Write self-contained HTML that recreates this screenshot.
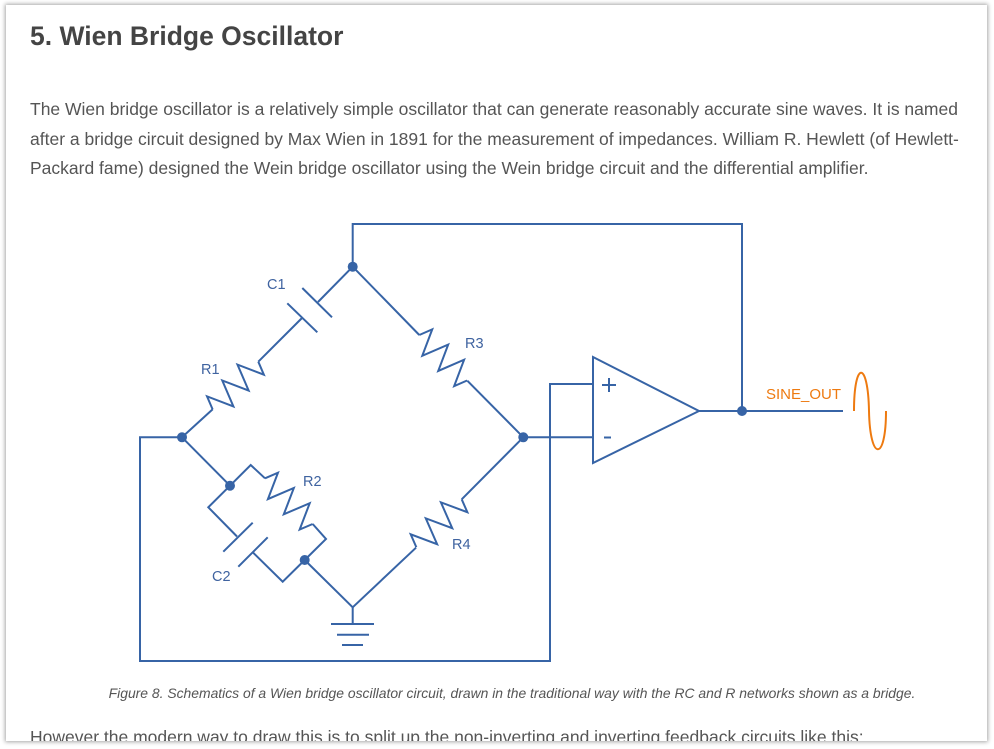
<!DOCTYPE html>
<html><head><style>
html,body{margin:0;padding:0;background:#fff;width:994px;height:749px;overflow:hidden;}
.card{position:absolute;left:6px;top:5px;width:981px;height:736px;background:#fff;box-shadow:0 0 4px 1px rgba(0,0,0,0.35);overflow:hidden;}
h1{position:absolute;left:24px;top:16px;margin:0;font:bold 26.5px "Liberation Sans",sans-serif;color:#444;}
p{position:absolute;left:24px;top:90px;width:945px;margin:0;font:17.5px/29.5px "Liberation Sans",sans-serif;color:#555;}
.cap{position:absolute;left:98px;width:816px;top:680px;text-align:center;font:italic 13.9px "Liberation Sans",sans-serif;color:#555;white-space:nowrap;}
.last{position:absolute;left:24px;top:722px;font:17.5px "Liberation Sans",sans-serif;color:#555;white-space:nowrap;}
svg{position:absolute;left:-6px;top:-5px;}
</style></head><body>
<div class="card">
<h1>5. Wien Bridge Oscillator</h1>
<p>The Wien bridge oscillator is a relatively simple oscillator that can generate reasonably accurate sine waves. It is named after a bridge circuit designed by Max Wien in 1891 for the measurement of impedances. William R. Hewlett (of Hewlett-Packard fame) designed the Wein bridge oscillator using the Wein bridge circuit and the differential amplifier.</p>
<svg width="994" height="749" viewBox="0 0 994 749">
<defs><polyline id="res" points="0,0 5.5,-13 16.5,13 27.5,-13 38.5,13 49.5,-13 60.5,13 66,0"/></defs>
<g fill="none" stroke="#3764a6" stroke-width="2" stroke-linejoin="miter">
<polyline points="352.7,266.7 352.7,224 742,224 742,411"/>
<polyline points="182,437.3 140,437.3 140,661 550,661 550,384 593,384"/>
<line x1="523.3" y1="437.3" x2="593" y2="437.3"/>
<polygon points="593,357 593,463 699,411"/>
<line x1="699" y1="411" x2="843" y2="411"/>
<line x1="352.7" y1="266.7" x2="318" y2="302"/>
<line x1="302.3" y1="288" x2="332" y2="317.3"/>
<line x1="287.3" y1="303.3" x2="317.3" y2="332.3"/>
<line x1="302" y1="318" x2="258.3" y2="361.7"/>
<use href="#res" transform="translate(258.3,361.7) rotate(133.8)"/>
<line x1="212.7" y1="409.3" x2="182" y2="437.3"/>
<line x1="352.7" y1="266.7" x2="419.3" y2="335"/>
<use href="#res" transform="translate(419.3,335) rotate(43.6)"/>
<line x1="467.3" y1="380.7" x2="523.3" y2="437.3"/>
<line x1="523.3" y1="437.3" x2="461.7" y2="499.3"/>
<use href="#res" transform="translate(461.7,499.3) rotate(133.4)"/>
<line x1="416" y1="547.7" x2="352.7" y2="607.3"/>
<line x1="182" y1="437.3" x2="230" y2="485.7"/>
<polyline points="230,485.7 250.7,465 265,478.3"/>
<use href="#res" transform="translate(265,478.3) rotate(43.8)"/>
<polyline points="312.7,524 326,539 304.7,560"/>
<line x1="304.7" y1="560" x2="352.7" y2="607.3"/>
<polyline points="230,485.7 208.3,507.3 237,536.5"/>
<line x1="252.7" y1="522.7" x2="223.3" y2="551.7"/>
<line x1="267.7" y1="537.3" x2="238.3" y2="566.7"/>
<polyline points="253,552.5 282.7,581.7 304.7,560"/>
<line x1="352.7" y1="607.3" x2="352.7" y2="624"/>
<line x1="331" y1="624" x2="374" y2="624"/>
<line x1="337" y1="634.7" x2="369" y2="634.7"/>
<line x1="342" y1="645" x2="363" y2="645"/>
<line x1="602" y1="385" x2="616" y2="385"/><line x1="609" y1="378" x2="609" y2="392"/>
<line x1="604" y1="437.5" x2="611" y2="437.5"/>
</g>
<path d="M854,411 C854,360 868,360 869,411 C870,462 886,462 886,411" fill="none" stroke="#ee7a10" stroke-width="2"/>
<g fill="#3764a6">
<circle cx="352.7" cy="266.7" r="5"/><circle cx="182" cy="437.3" r="5"/><circle cx="523.3" cy="437.3" r="5"/>
<circle cx="230" cy="485.7" r="5"/><circle cx="304.7" cy="560" r="5"/><circle cx="742" cy="411" r="5"/>
</g>
<g font-family="Liberation Sans,sans-serif" font-size="14.5" fill="#3f63a0">
<text x="267" y="289">C1</text><text x="201" y="374">R1</text><text x="465" y="348">R3</text>
<text x="303" y="486">R2</text><text x="212" y="581">C2</text><text x="452" y="549">R4</text>
</g>
<text x="766" y="399" font-family="Liberation Sans,sans-serif" font-size="15" fill="#ee7a10">SINE_OUT</text>
</svg>
<div class="cap">Figure 8. Schematics of a Wien bridge oscillator circuit, drawn in the traditional way with the RC and R networks shown as a bridge.</div>
<div class="last">However the modern way to draw this is to split up the non-inverting and inverting feedback circuits like this:</div>
</div>
</body></html>
